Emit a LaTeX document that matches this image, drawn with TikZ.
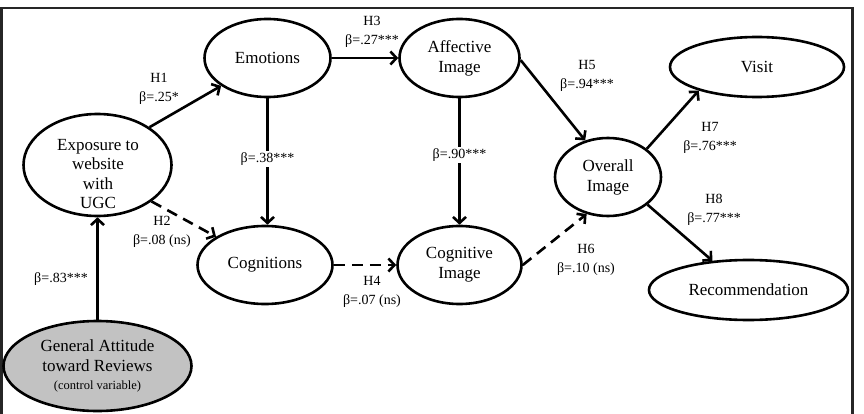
\documentclass[tikz,border=0pt]{standalone}
\usepackage{fontspec}
\setmainfont{Liberation Serif}
\usetikzlibrary{shapes.geometric,arrows.meta}
\begin{document}
\begin{tikzpicture}[x=1pt,y=-1pt,
  ell/.style={ellipse,draw,line width=2.6pt,inner sep=0pt,align=center,
    font=\fontsize{17}{20}\selectfont},
  txt/.style={inner sep=0pt,align=center,font=\fontsize{17}{19.5}\selectfont},
  lbl/.style={inner sep=1.5pt,align=center,font=\fontsize{14}{18.5}\selectfont},
  arr/.style={line width=2.6pt,-{Straight Barb[length=6pt,width=13pt]}},
  dsh/.style={arr,dash pattern=on 11pt off 7pt}]
\useasboundingbox (0,0) rectangle (864,414);
% frame
\draw[line width=2.4pt,black!85] (1.5,430) -- (1.5,8) -- (852.5,8) -- (852.5,430);
% nodes
\node[ell,minimum width=148pt,minimum height=102pt] (exp) at (97.5,165) {};
\node[txt] (exptxt) at (98,174) {Exposure to\\website\\with\\UGC};
\node[ell,minimum width=126pt,minimum height=78pt] (emo) at (267.5,58) {Emotions};
\node[ell,minimum width=120pt,minimum height=78pt] (aff) at (459.5,58) {Affective\\Image};
\node[ell,minimum width=174pt,minimum height=60pt] (vis) at (757,67) {Visit};
\node[ell,minimum width=106pt,minimum height=78pt] (ovr) at (608,177) {Overall\\Image};
\node[ell,minimum width=199pt,minimum height=60pt] (rec) at (748.5,290) {Recommendation};
\node[ell,minimum width=124pt,minimum height=78pt] (cgi) at (459.5,265) {Cognitive\\Image};
\node[ell,minimum width=135pt,minimum height=78pt] (cog) at (265,265) {Cognitions};
\node[ell,fill=black!24,minimum width=188pt,minimum height=90pt] (gen) at (97.5,366)
  {General Attitude\\toward Reviews\\[-2pt]{\fontsize{12.5}{14}\selectfont (control variable)}};
% edges
\draw[arr] (gen.north) -- (exp.south);
\draw[arr] (exp.36) -- (emo.211);
\draw[dsh] (exp.326) -- (cog.150);
\draw[arr] (emo.east) -- (aff.west);
\draw[arr] (emo.south) -- (cog.north -| emo.south)
  node[lbl,fill=white,pos=0.48] (l38) {β=.38***};
\draw[dsh] (cog.east) -- (cgi.west);
\draw[arr] (aff.south) -- (cgi.north)
  node[lbl,fill=white,pos=0.45] (l90) {β=.90***};
\draw[arr] (aff.-2) -- (ovr.122);
\draw[dsh] (cgi.east) -- (ovr.240);
\draw[arr] (ovr.36) -- (vis.202);
\draw[arr] (ovr.325) -- (rec.141);
% labels
\node[lbl] (l1) at (159,89) {H1\\β=.25*};
\node[lbl] (l3) at (372,32) {H3\\β=.27***};
\node[lbl] (l2) at (162,232) {H2\\β=.08 (ns)};
\node[lbl] (l83) at (61,279) {β=.83***};
\node[lbl] (l4) at (372,292) {H4\\β=.07 (ns)};
\node[lbl] (l5) at (587,76) {H5\\β=.94***};
\node[lbl] (l7) at (710,138) {H7\\β=.76***};
\node[lbl] (l8) at (714,210) {H8\\β=.77***};
\node[lbl] (l6) at (586,260) {H6\\β=.10 (ns)};
\end{tikzpicture}
\end{document}
